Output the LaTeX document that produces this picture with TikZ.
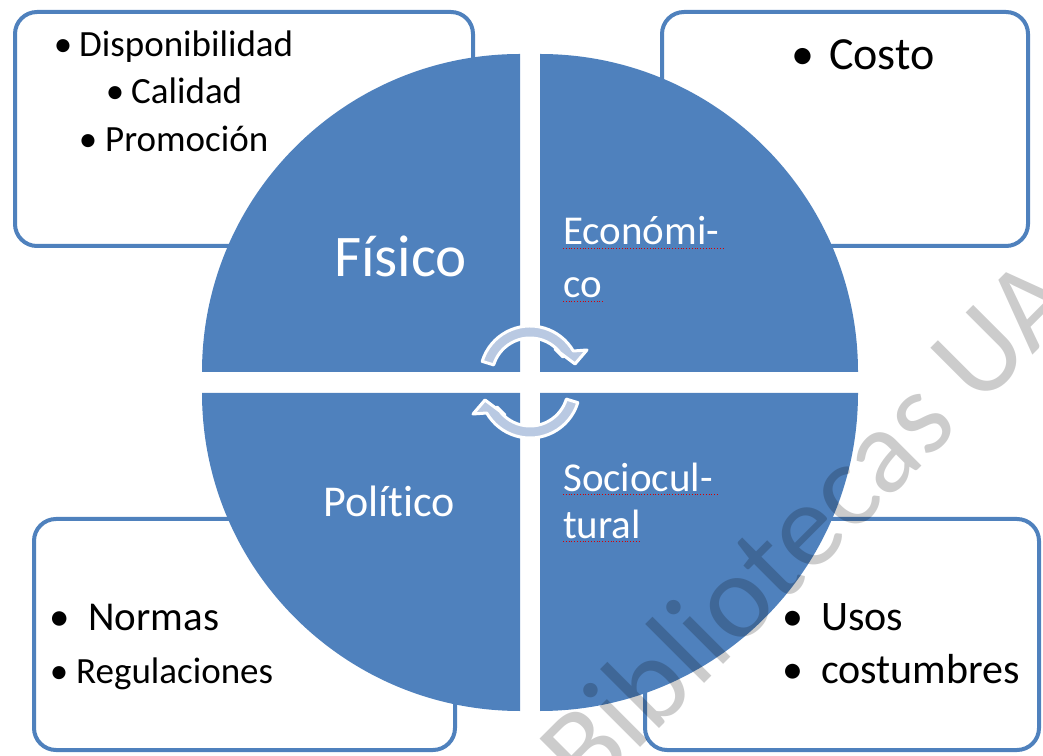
\documentclass[tikz,border=0pt]{standalone}
\usepackage{fontspec}
\setmainfont{Carlito}[Ligatures=NoCommon]
\usetikzlibrary{calc}
\definecolor{accent}{HTML}{4F81BD}
\definecolor{arrowblue}{HTML}{B9C9E2}
\tikzset{
  box/.style={draw=accent, line width=4pt, fill=white, rounded corners=22pt},
  pie/.style={fill=accent, draw=none},
  cyclearrow/.style={fill=arrowblue, draw=white, line width=3pt, line join=round},
  seglabel/.style={anchor=base west, inner sep=0pt, text=white},
  itemtext/.style={anchor=base west, inner sep=0pt, text=black},
  bul/.style={anchor=base, inner sep=0pt, text=black},
  spell/.style={draw=red!85!black, dotted, line width=0.8pt},
  watermark/.style={anchor=base west, inner sep=0pt, text=black, opacity=0.2, rotate=45}
}
\newcommand{\fs}[1]{\fontsize{#1}{#1}\selectfont}
\begin{document}
\begin{tikzpicture}[x=1pt,y=1pt]
\useasboundingbox (0,0) rectangle (1043,755);
% boxes
\draw[box] (15,509) rectangle (473,743);
\draw[box] (662,509) rectangle (1028,743);
\draw[box] (34,5) rectangle (455,236);
\draw[box] (645,5) rectangle (1039,236);
% pies
\fill[pie] (520,383) -- (202,383) arc[start angle=180, end angle=90, radius=318] -- cycle;
\fill[pie] (540,383) -- (540,701) arc[start angle=90, end angle=0, radius=318] -- cycle;
\fill[pie] (520,362) -- (202,362) arc[start angle=180, end angle=270, radius=318] -- cycle;
\fill[pie] (540,362) -- (858,362) arc[start angle=0, end angle=-90, radius=318] -- cycle;
% centre arrows
\coordinate (c1) at (530,379);
\coordinate (c2) at (530,367);
\path[cyclearrow] ($(c1)+(163:50)$) arc[start angle=163, end angle=30, radius=50]
  -- (587,405) -- (575,391) -- (555,406) -- ($(c1)+(30:38)$)
  arc[start angle=30, end angle=163, radius=38] -- cycle;
\path[cyclearrow] ($(c2)+(-17:50)$) arc[start angle=-17, end angle=-150, radius=50]
  -- (473,341) -- (485,355) -- (505,340) -- ($(c2)+(-150:38)$)
  arc[start angle=-150, end angle=-17, radius=38] -- cycle;
% segment labels
\node[seglabel, font=\fs{59}] (fis) at (334,478) {Físico};
\node[seglabel, font=\fs{41}] (eco1) at (563,510) {Económi-};
\node[seglabel, font=\fs{41}] (eco2) at (563,457) {co};
\node[seglabel, font=\fs{44}] (pol) at (323,238) {Político};
\node[seglabel, font=\fs{41}] (soc1) at (563,263) {Sociocul-};
\node[seglabel, font=\fs{41}] (soc2) at (563,216) {tural};
\draw[spell] (563,507) -- (725,507);
\draw[spell] (563,454) -- (603,454);
\draw[spell] (563,261) -- (718,261);
\draw[spell] (563,214) -- (641,214);
% top-left list
\node[bul, font=\fs{37}] (b1) at (63,698) {•};
\node[itemtext, font=\fs{37}] (t1) at (79,698) {Disponibilidad};
\node[bul, font=\fs{37}] (b2) at (115,651) {•};
\node[itemtext, font=\fs{37}] (t2) at (131,651) {Calidad};
\node[bul, font=\fs{37}] (b3) at (88,603) {•};
\node[itemtext, font=\fs{37}] (t3) at (105,603) {Promoción};
% top-right list
\node[bul, font=\fs{46}] (b4) at (803,685) {•};
\node[itemtext, font=\fs{46}] (t4) at (829,685) {Costo};
% bottom-left list
\node[bul, font=\fs{41}] (b5) at (60,125) {•};
\node[itemtext, font=\fs{41}] (t5) at (88,125) {Normas};
\node[bul, font=\fs{37}] (b6) at (59,72) {•};
\node[itemtext, font=\fs{37}] (t6) at (76,72) {Regulaciones};
% bottom-right list
\node[bul, font=\fs{42}] (b7) at (793,125) {•};
\node[itemtext, font=\fs{42}] (t7) at (821,125) {Usos};
\node[bul, font=\fs{42}] (b8) at (793,72) {•};
\node[itemtext, font=\fs{42}] (t8) at (821,72) {costumbres};
% watermark
\node[watermark, font=\fs{120}] (wm) at (588,-45) {Bibliotecas UA};
\end{tikzpicture}
\end{document}
